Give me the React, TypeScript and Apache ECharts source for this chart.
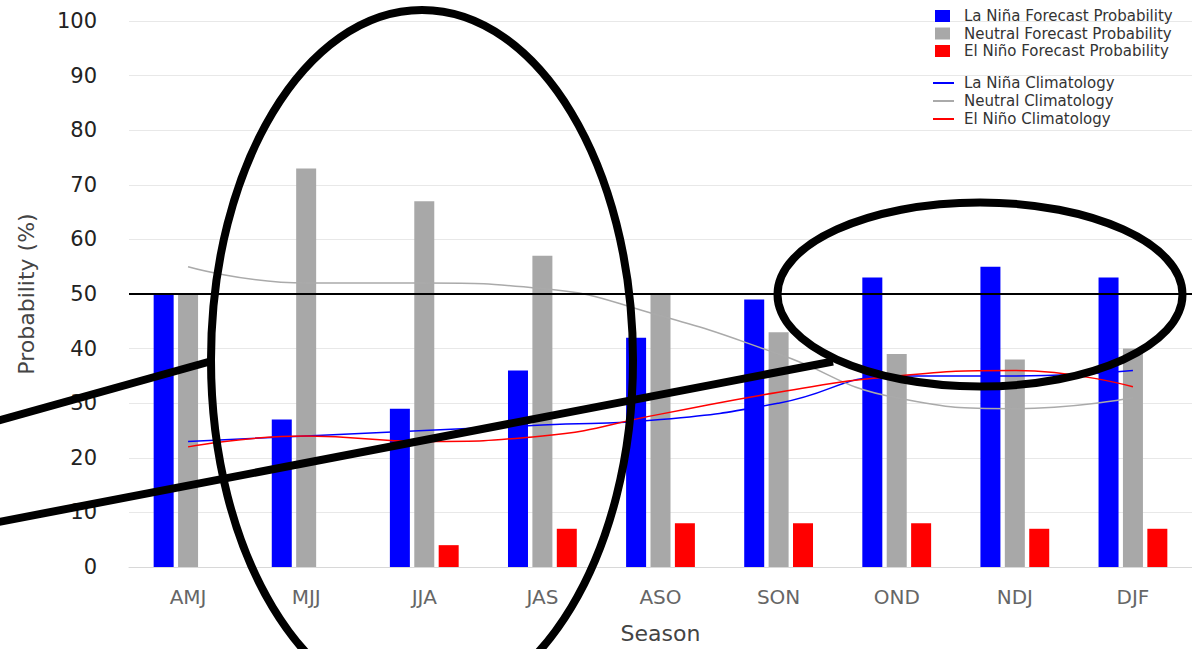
import React, { useEffect, useRef } from "react";
import * as echarts from "echarts";

const seasons = ["AMJ", "MJJ", "JJA", "JAS", "ASO", "SON", "OND", "NDJ", "DJF"];
const laNinaProb = [50, 27, 29, 36, 42, 49, 53, 55, 53];
const neutralProb = [50, 73, 67, 57, 50, 43, 39, 38, 40];
const elNinoProb = [0, 0, 4, 7, 8, 8, 8, 7, 7];
const laNinaClim = [23, 24, 25, 26, 27, 30, 35, 35, 36];
const neutralClim = [55, 52, 52, 51, 46, 39, 31, 29, 31];
const elNinoClim = [22, 24, 23, 24, 28, 32, 35, 36, 33];
const referenceLevel = 50;

const barNames = [
  "La Niña Forecast Probability",
  "Neutral Forecast Probability",
  "El Niño Forecast Probability",
];
const lineNames = ["La Niña Climatology", "Neutral Climatology", "El Niño Climatology"];

const BLUE = "#0000ff";
const GRAY = "#a8a8a8";
const RED = "#ff0000";
const FONT = "DejaVu Sans";

export default function App() {
  const ref = useRef<HTMLDivElement>(null);
  useEffect(() => {
    if (!ref.current) return;
    const chart = echarts.init(ref.current, undefined, { renderer: "svg" });
    const barCommon = {
      type: "bar",
      barWidth: 20,
      barGap: "22%",
    };
    const lineCommon = {
      type: "line",
      smooth: true,
      symbol: "none",
      z: 5,
    };
    chart.setOption({
      animation: false,
      backgroundColor: "#ffffff",
      textStyle: { fontFamily: FONT },
      grid: { left: 129, width: 1067, top: 21, bottom: 81 },
      legend: [
        {
          data: barNames,
          orient: "vertical",
          left: 930,
          top: 3,
          icon: "rect",
          itemWidth: 15,
          itemHeight: 12,
          itemGap: 1.5,
          selectedMode: false,
          textStyle: {
            fontFamily: FONT,
            fontSize: 15,
            lineHeight: 16,
            color: "#333",
            padding: [0, 0, 0, 9],
          },
        },
        {
          data: lineNames,
          orient: "vertical",
          left: 928,
          top: 70,
          icon: "rect",
          itemWidth: 21,
          itemHeight: 2,
          itemGap: 2,
          selectedMode: false,
          textStyle: {
            fontFamily: FONT,
            fontSize: 15,
            lineHeight: 16,
            color: "#333",
            padding: [0, 0, 0, 5],
          },
        },
      ],
      xAxis: {
        type: "category",
        data: seasons,
        name: "Season",
        nameLocation: "middle",
        nameGap: 55,
        nameTextStyle: { fontFamily: FONT, fontSize: 22, color: "#444" },
        axisLine: { lineStyle: { color: "#d8d8d8" } },
        axisTick: { show: false },
        axisLabel: { interval: 0, margin: 20, fontSize: 20, color: "#666", fontFamily: FONT },
      },
      yAxis: {
        type: "value",
        min: 0,
        max: 100,
        interval: 10,
        name: "Probability (%)",
        nameLocation: "middle",
        nameGap: 92,
        nameTextStyle: { fontFamily: FONT, fontSize: 22, color: "#444" },
        axisLine: { show: false },
        axisTick: { show: false },
        axisLabel: { margin: 32, fontSize: 21, color: "#222", fontFamily: FONT },
        splitLine: { lineStyle: { color: "#e8e8e8", width: 1 } },
      },
      series: [
        {
          ...barCommon,
          name: barNames[0],
          data: laNinaProb,
          itemStyle: { color: BLUE },
          markLine: {
            silent: true,
            symbol: "none",
            label: { show: false },
            lineStyle: { color: "#000", width: 2, type: "solid" },
            data: [{ yAxis: referenceLevel }],
            z: 10,
          },
        },
        { ...barCommon, name: barNames[1], data: neutralProb, itemStyle: { color: GRAY } },
        { ...barCommon, name: barNames[2], data: elNinoProb, itemStyle: { color: RED } },
        {
          ...lineCommon,
          name: lineNames[0],
          data: laNinaClim,
          itemStyle: { color: BLUE },
          lineStyle: { color: BLUE, width: 1.5 },
        },
        {
          ...lineCommon,
          name: lineNames[1],
          data: neutralClim,
          itemStyle: { color: "#aaaaaa" },
          lineStyle: { color: "#aaaaaa", width: 1.5 },
        },
        {
          ...lineCommon,
          name: lineNames[2],
          data: elNinoClim,
          itemStyle: { color: RED },
          lineStyle: { color: RED, width: 1.5 },
        },
      ],
      graphic: [
        {
          type: "ellipse",
          z: 100,
          shape: { cx: 422, cy: 360, rx: 211, ry: 350 },
          style: { fill: "none", stroke: "#000", lineWidth: 8 },
        },
        {
          type: "ellipse",
          z: 100,
          shape: { cx: 980, cy: 294.5, rx: 202.5, ry: 92 },
          style: { fill: "none", stroke: "#000", lineWidth: 8 },
        },
        {
          type: "line",
          z: 100,
          shape: { x1: -5, y1: 421.5, x2: 210, y2: 361.5 },
          style: { stroke: "#000", lineWidth: 8 },
        },
        {
          type: "line",
          z: 100,
          shape: { x1: -5, y1: 522.7, x2: 833, y2: 361.5 },
          style: { stroke: "#000", lineWidth: 8 },
        },
      ],
    });
    return () => chart.dispose();
  }, []);
  return (
    <div
      ref={ref}
      style={{ position: "fixed", left: 0, top: 0, width: 1192, height: 649 }}
    />
  );
}
